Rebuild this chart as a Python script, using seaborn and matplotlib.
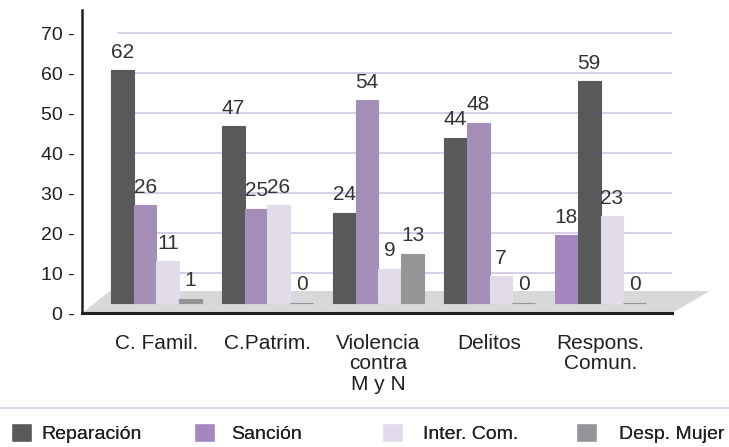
import pandas as pd
import seaborn as sns
import matplotlib.pyplot as plt
from matplotlib.patches import Polygon
from matplotlib.lines import Line2D

# datos
categorias = ['C. Famil.', 'C.Patrim.', 'Violencia\ncontra\nM y N', 'Delitos', 'Respons.\nComun.']
series = ['Reparación', 'Sanción', 'Inter. Com.', 'Desp. Mujer']
reparacion = [62, 47, 24, 44, 18]
sancion = [26, 25, 54, 48, 59]
inter_com = [11, 26, 9, 7, 23]
desp_mujer = [1, 0, 13, 0, 0]
y_ticks = [0, 10, 20, 30, 40, 50, 60, 70]
y_labels = [f'{t} -' for t in y_ticks]

colores = ['#58595b', '#a487bf', '#e1d9ec', '#939598']
color_grid = '#d6c8e6'
color_piso = '#d7d8da'
color_texto = '#333333'

df = pd.DataFrame({
    'categoria': categorias * 4,
    'serie': [s for s in series for _ in categorias],
    'valor': reparacion + sancion + inter_com + desp_mujer,
})

sns.set_style('white')
plt.rcParams['font.family'] = ['Liberation Sans', 'DejaVu Sans']

W, H = 729, 447
fig = plt.figure(figsize=(W / 100, H / 100), dpi=100)
pos = [82 / W, (H - 313) / H, (672 - 82) / W, (313 - 10) / H]

# pared del fondo: ejes con cuadricula
ax = fig.add_axes(pos)
ax.set_ylim(0, 75.75)
ax.set_xlim(0, 1)
ax.set_yticks(y_ticks)
ax.set_yticklabels(y_labels, fontsize=14, color='#231f20')
ax.tick_params(axis='y', length=0, pad=5)
ax.set_xticks([])
for t in y_ticks[1:]:
    ax.axhline(t, xmin=0.061, xmax=1, color=color_grid, lw=1.3, zorder=0.5)
for s in ['top', 'right']:
    ax.spines[s].set_visible(False)
ax.spines['left'].set_linewidth(1.8)
ax.spines['bottom'].set_linewidth(2.2)
ax.spines['left'].set_color('#231f20')
ax.spines['bottom'].set_color('#231f20')
ax.spines['bottom'].set_zorder(3)

# piso en perspectiva
piso = [(82, 313), (672, 313), (710, 291), (110, 291)]
ax.add_patch(Polygon([(x / W, 1 - y / H) for x, y in piso], closed=True,
                     transform=fig.transFigure, facecolor=color_piso,
                     edgecolor='none', zorder=1, clip_on=False))

# barras delante
bx = fig.add_axes(pos)
bx.patch.set_alpha(0)
sns.barplot(data=df, x='categoria', y='valor', hue='serie', palette=colores,
            width=0.82, errorbar=None, ax=bx, linewidth=0, legend=False)
bx.set_ylim(-2.8, 78.0)
bx.set_xlim(-0.671, 4.644)
bx.set_xlabel('')
bx.set_ylabel('')
bx.set_yticks([])
bx.tick_params(axis='x', length=0, pad=15)
bx.set_xticklabels(categorias, fontsize=15, color='#231f20', linespacing=1.1)
for s in bx.spines.values():
    s.set_visible(False)

# en Respons. Comun. el original invierte los colores de las dos primeras barras
c0, c1 = bx.containers[0], bx.containers[1]
c0[4].set_facecolor(colores[1])
c1[4].set_facecolor(colores[0])

for c in bx.containers:
    for p in c:
        p.set_edgecolor(p.get_facecolor())
        p.set_linewidth(0.8)
    bx.bar_label(c, padding=6, fontsize=15, color=color_texto)

# separador y leyenda
fig.add_artist(Line2D([0, 1], [1 - 408 / H, 1 - 408 / H], color=color_grid,
                      lw=1.1, transform=fig.transFigure))
leg_x = [11, 194, 382, 576]
leg_pad = [0.45, 0.8, 1.0, 1.1]
for nombre, color, x, tp in zip(series, colores, leg_x, leg_pad):
    leg = fig.legend([plt.Rectangle((0, 0), 1, 1, facecolor=color)], [nombre],
                     loc='center left', bbox_to_anchor=(x / W, 1 - 433 / H),
                     frameon=False, borderpad=0, borderaxespad=0,
                     handlelength=1.1, handleheight=1.1, handletextpad=tp,
                     fontsize=14, labelcolor='#231f20')
    fig.add_artist(leg)

fig.savefig('out.png', dpi=100)
